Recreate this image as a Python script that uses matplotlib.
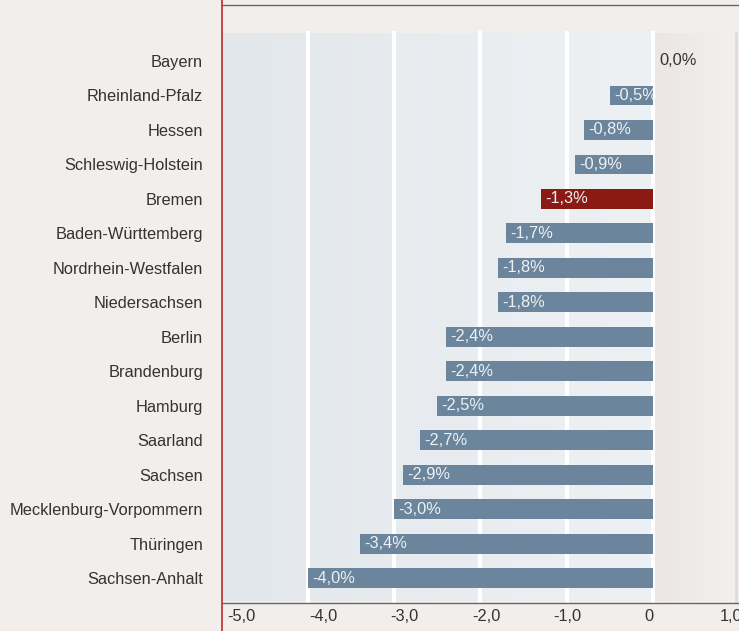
import numpy as np
import matplotlib
matplotlib.use("Agg")
import matplotlib.pyplot as plt
from matplotlib.colors import LinearSegmentedColormap

# Veränderung je Bundesland in Prozent
laender = ["Bayern", "Rheinland-Pfalz", "Hessen", "Schleswig-Holstein", "Bremen",
           "Baden-Württemberg", "Nordrhein-Westfalen", "Niedersachsen", "Berlin",
           "Brandenburg", "Hamburg", "Saarland", "Sachsen",
           "Mecklenburg-Vorpommern", "Thüringen", "Sachsen-Anhalt"]
werte = [0.0, -0.5, -0.8, -0.9, -1.3, -1.7, -1.8, -1.8, -2.4, -2.4, -2.5, -2.7,
         -2.9, -3.0, -3.4, -4.0]
highlight = "Bremen"
xticks = [-5, -4, -3, -2, -1, 0, 1]
xticklabels = ["-5,0", "-4,0", "-3,0", "-2,0", "-1,0", "0", "1,0"]

BG = "#f2eeeb"
BAR = "#6b859c"
RED = "#8b1a14"
TXT = "#333333"
FS = 11.8

plt.rcParams["font.family"] = ["Liberation Sans", "DejaVu Sans"]

fig = plt.figure(figsize=(7.39, 6.31), dpi=100, facecolor=BG)
ax = fig.add_axes([222 / 739, 28 / 631, 517 / 739, 598 / 631])
ax.set_facecolor(BG)

y = np.arange(len(laender))

# Hintergrund: bläulicher Verlauf im negativen Bereich, beiger rechts der Null
band_top, band_bot = -0.81, 15.66
grad = np.linspace(0, 1, 256).reshape(1, -1)
blue = LinearSegmentedColormap.from_list("b", ["#e2e7eb", "#eef1f4"])
beige = LinearSegmentedColormap.from_list("g", ["#ebe6e3", "#f3f0ee"])
ax.imshow(grad, cmap=blue, aspect="auto", extent=[-5, 0, band_bot, band_top], zorder=0)
ax.imshow(grad, cmap=beige, aspect="auto", extent=[0, 0.96, band_bot, band_top], zorder=0)
ax.plot([0.965, 0.965], [band_top, band_bot], color="#e0dbd8", lw=2, zorder=0.5)
ax.set_xlim(-5, 1)
ax.set_ylim(15.72, -1.62)

for gx in [-4, -3, -2, -1, 0]:
    ax.plot([gx, gx], [band_top, band_bot], color="white", lw=3, zorder=1)

colors = [RED if l == highlight else BAR for l in laender]
ax.barh(y, werte, height=0.57, color=colors, zorder=2)

for yi, v in zip(y, werte):
    lab = f"{v:.1f}%".replace(".", ",")
    if v < 0:
        ax.text(v + 0.05, yi, lab, ha="left", va="center", color="#eef1f4",
                fontsize=FS, zorder=3)
    else:
        ax.text(v + 0.08, yi, lab, ha="left", va="center", color=TXT,
                fontsize=FS, zorder=3)

ax.set_yticks(y, laender)
ax.tick_params(axis="y", length=0, pad=13.5, labelsize=FS, labelcolor=TXT)

# Achsenbeschriftung leicht gestaucht gegenüber dem Gitter
ax.set_xticks([t * 0.947 - 0.04 for t in xticks], xticklabels)
ax.tick_params(axis="x", length=0, pad=4, labelsize=FS, labelcolor=TXT)

for s in ["left", "right"]:
    ax.spines[s].set_visible(False)
for s in ["top", "bottom"]:
    ax.spines[s].set_linestyle((0, (1, 1)))
    ax.spines[s].set_linewidth(1.0)
    ax.spines[s].set_color("#666666")

# rote Achslinie über die ganze Höhe
ax.axvline(-5, ymin=-0.05, ymax=1.01, color="#c0292a", lw=1.2, clip_on=False, zorder=5)

fig.savefig("out.png", dpi=100, facecolor=BG)
